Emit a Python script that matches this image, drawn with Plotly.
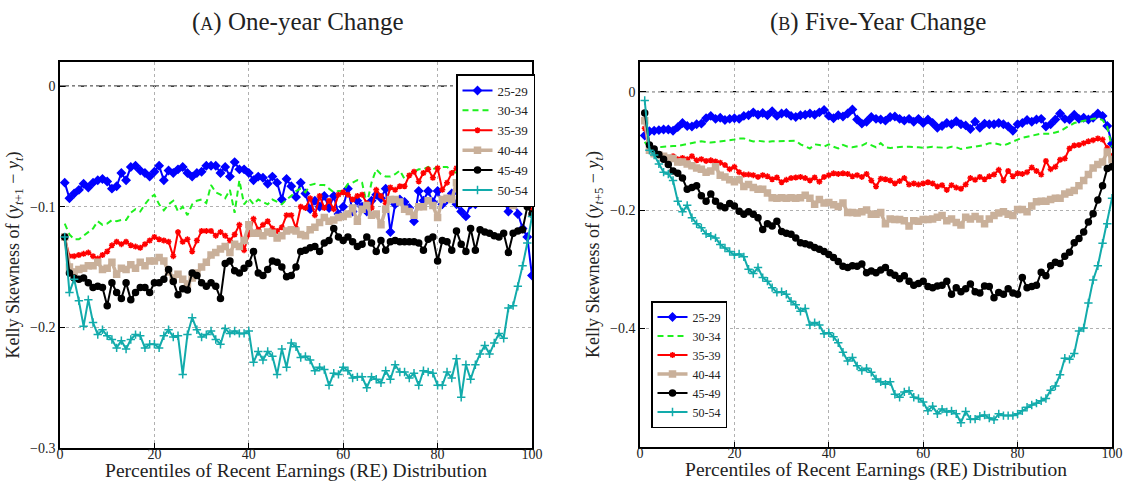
import plotly.graph_objects as go

pct = list(range(1, 101))
age_groups = ["25-29", "30-34", "35-39", "40-44", "45-49", "50-54"]

# Panel A: one-year change
a_2529 = [-0.080,-0.093,-0.089,-0.086,-0.081,-0.084,-0.080,-0.078,-0.077,-0.079,-0.085,-0.083,-0.072,-0.078,-0.067,-0.066,-0.070,-0.072,-0.075,-0.071,
          -0.066,-0.078,-0.070,-0.072,-0.069,-0.067,-0.072,-0.075,-0.072,-0.071,-0.066,-0.066,-0.066,-0.072,-0.067,-0.075,-0.063,-0.069,-0.069,-0.072,
          -0.078,-0.075,-0.076,-0.081,-0.075,-0.080,-0.094,-0.077,-0.083,-0.092,-0.080,-0.089,-0.102,-0.095,-0.100,-0.091,-0.101,-0.091,-0.106,-0.100,
          -0.085,-0.104,-0.095,-0.100,-0.104,-0.095,-0.090,-0.093,-0.085,-0.121,-0.098,-0.094,-0.096,-0.101,-0.112,-0.087,-0.095,-0.087,-0.096,-0.087,
          -0.098,-0.094,-0.089,-0.098,-0.104,-0.108,-0.098,-0.098,-0.093,-0.090,-0.086,-0.093,-0.091,-0.094,-0.104,-0.093,-0.106,-0.118,-0.125,-0.157]
a_3034 = [-0.114,-0.123,-0.127,-0.127,-0.124,-0.121,-0.118,-0.112,-0.115,-0.114,-0.111,-0.112,-0.111,-0.111,-0.105,-0.102,-0.104,-0.098,-0.093,-0.090,
          -0.098,-0.103,-0.098,-0.095,-0.104,-0.100,-0.107,-0.098,-0.095,-0.094,-0.097,-0.082,-0.088,-0.090,-0.093,-0.086,-0.105,-0.078,-0.098,-0.093,
          -0.098,-0.094,-0.096,-0.098,-0.094,-0.096,-0.098,-0.094,-0.091,-0.087,-0.085,-0.088,-0.082,-0.081,-0.082,-0.082,-0.085,-0.088,-0.087,-0.087,
          -0.081,-0.080,-0.078,-0.080,-0.098,-0.080,-0.069,-0.073,-0.075,-0.075,-0.073,-0.070,-0.077,-0.073,-0.071,-0.069,-0.069,-0.067,-0.069,-0.067,
          -0.067,-0.067,-0.070,-0.072,-0.075,-0.078,-0.080,-0.082,-0.080,-0.083,-0.085,-0.082,-0.086,-0.084,-0.087,-0.085,-0.088,-0.086,-0.092,-0.107]
a_3539 = [-0.125,-0.141,-0.141,-0.140,-0.139,-0.138,-0.141,-0.143,-0.140,-0.137,-0.132,-0.129,-0.131,-0.129,-0.132,-0.133,-0.134,-0.131,-0.128,-0.125,
          -0.127,-0.128,-0.129,-0.141,-0.121,-0.129,-0.127,-0.137,-0.128,-0.120,-0.120,-0.120,-0.124,-0.121,-0.124,-0.128,-0.123,-0.115,-0.136,-0.123,
          -0.110,-0.119,-0.115,-0.112,-0.118,-0.120,-0.117,-0.107,-0.107,-0.118,-0.100,-0.101,-0.093,-0.107,-0.091,-0.101,-0.095,-0.102,-0.090,-0.088,
          -0.090,-0.094,-0.091,-0.090,-0.097,-0.101,-0.086,-0.091,-0.097,-0.084,-0.086,-0.083,-0.083,-0.074,-0.071,-0.079,-0.072,-0.069,-0.076,-0.068,
          -0.086,-0.080,-0.072,-0.068,-0.078,-0.072,-0.068,-0.074,-0.075,-0.072,-0.070,-0.068,-0.071,-0.071,-0.076,-0.082,-0.083,-0.085,-0.092,-0.104]
a_4044 = [-0.125,-0.150,-0.154,-0.152,-0.151,-0.149,-0.149,-0.146,-0.152,-0.151,-0.146,-0.156,-0.151,-0.152,-0.148,-0.151,-0.146,-0.149,-0.145,-0.145,
          -0.142,-0.145,-0.154,-0.159,-0.156,-0.160,-0.164,-0.159,-0.155,-0.150,-0.146,-0.140,-0.138,-0.135,-0.133,-0.138,-0.131,-0.133,-0.128,-0.115,
          -0.122,-0.122,-0.124,-0.121,-0.122,-0.126,-0.124,-0.120,-0.119,-0.120,-0.123,-0.124,-0.119,-0.117,-0.113,-0.109,-0.112,-0.111,-0.109,-0.108,
          -0.106,-0.101,-0.112,-0.102,-0.099,-0.107,-0.106,-0.115,-0.102,-0.094,-0.094,-0.096,-0.102,-0.104,-0.107,-0.100,-0.100,-0.095,-0.099,-0.109,
          -0.094,-0.093,-0.094,-0.080,-0.090,-0.093,-0.086,-0.086,-0.089,-0.082,-0.093,-0.091,-0.095,-0.095,-0.093,-0.099,-0.087,-0.094,-0.095,-0.095]
a_4549 = [-0.125,-0.155,-0.159,-0.160,-0.159,-0.163,-0.167,-0.166,-0.167,-0.182,-0.163,-0.171,-0.176,-0.163,-0.177,-0.171,-0.167,-0.167,-0.171,-0.163,
          -0.163,-0.160,-0.152,-0.162,-0.173,-0.168,-0.169,-0.155,-0.157,-0.163,-0.166,-0.163,-0.166,-0.176,-0.147,-0.145,-0.153,-0.155,-0.151,-0.147,
          -0.137,-0.155,-0.157,-0.152,-0.145,-0.146,-0.150,-0.158,-0.157,-0.150,-0.137,-0.136,-0.134,-0.133,-0.137,-0.130,-0.128,-0.118,-0.125,-0.128,
          -0.125,-0.129,-0.133,-0.131,-0.125,-0.130,-0.137,-0.128,-0.136,-0.129,-0.128,-0.129,-0.129,-0.129,-0.129,-0.130,-0.136,-0.127,-0.125,-0.145,
          -0.128,-0.129,-0.136,-0.120,-0.131,-0.137,-0.118,-0.136,-0.119,-0.121,-0.122,-0.124,-0.125,-0.122,-0.138,-0.122,-0.120,-0.119,-0.100,-0.106]
a_5054 = [-0.125,-0.171,-0.160,-0.178,-0.199,-0.177,-0.196,-0.206,-0.202,-0.207,-0.210,-0.217,-0.211,-0.218,-0.210,-0.206,-0.207,-0.217,-0.214,-0.214,
          -0.217,-0.207,-0.202,-0.208,-0.207,-0.239,-0.206,-0.192,-0.202,-0.208,-0.206,-0.203,-0.210,-0.214,-0.201,-0.205,-0.203,-0.205,-0.205,-0.203,
          -0.229,-0.220,-0.227,-0.220,-0.224,-0.239,-0.218,-0.233,-0.213,-0.216,-0.225,-0.224,-0.227,-0.236,-0.233,-0.235,-0.248,-0.238,-0.239,-0.233,
          -0.236,-0.242,-0.241,-0.241,-0.250,-0.241,-0.243,-0.246,-0.236,-0.243,-0.231,-0.237,-0.237,-0.242,-0.238,-0.248,-0.236,-0.237,-0.238,-0.248,
          -0.248,-0.237,-0.242,-0.226,-0.258,-0.231,-0.243,-0.231,-0.222,-0.215,-0.222,-0.213,-0.205,-0.209,-0.184,-0.182,-0.166,-0.149,-0.130,-0.108]

# Panel B: five-year change
b_2529 = [-0.074,-0.067,-0.066,-0.065,-0.064,-0.064,-0.066,-0.060,-0.053,-0.058,-0.059,-0.055,-0.054,-0.045,-0.041,-0.046,-0.044,-0.048,-0.046,-0.045,
          -0.046,-0.041,-0.040,-0.035,-0.039,-0.036,-0.040,-0.033,-0.041,-0.037,-0.036,-0.041,-0.043,-0.040,-0.039,-0.037,-0.039,-0.035,-0.031,-0.041,
          -0.045,-0.040,-0.042,-0.037,-0.030,-0.047,-0.054,-0.051,-0.043,-0.046,-0.047,-0.049,-0.043,-0.042,-0.046,-0.049,-0.046,-0.051,-0.046,-0.053,
          -0.047,-0.053,-0.061,-0.058,-0.053,-0.055,-0.050,-0.055,-0.057,-0.063,-0.051,-0.061,-0.054,-0.055,-0.055,-0.053,-0.055,-0.059,-0.066,-0.055,
          -0.053,-0.048,-0.051,-0.047,-0.046,-0.059,-0.055,-0.047,-0.037,-0.046,-0.047,-0.039,-0.046,-0.044,-0.047,-0.044,-0.037,-0.041,-0.058,-0.088]
b_3034 = [-0.085,-0.096,-0.099,-0.094,-0.093,-0.092,-0.092,-0.092,-0.090,-0.088,-0.086,-0.085,-0.084,-0.085,-0.086,-0.085,-0.084,-0.084,-0.083,-0.081,
          -0.079,-0.079,-0.082,-0.084,-0.083,-0.084,-0.085,-0.084,-0.084,-0.083,-0.083,-0.083,-0.083,-0.089,-0.092,-0.096,-0.089,-0.090,-0.093,-0.089,
          -0.093,-0.096,-0.090,-0.093,-0.094,-0.092,-0.091,-0.087,-0.091,-0.094,-0.087,-0.094,-0.095,-0.094,-0.094,-0.093,-0.093,-0.093,-0.094,-0.095,
          -0.094,-0.093,-0.094,-0.094,-0.095,-0.093,-0.094,-0.097,-0.095,-0.094,-0.093,-0.092,-0.090,-0.087,-0.087,-0.089,-0.091,-0.088,-0.084,-0.081,
          -0.078,-0.076,-0.074,-0.072,-0.071,-0.071,-0.071,-0.069,-0.067,-0.062,-0.057,-0.053,-0.051,-0.049,-0.048,-0.046,-0.045,-0.048,-0.060,-0.094]
b_3539 = [-0.062,-0.100,-0.105,-0.106,-0.109,-0.112,-0.109,-0.114,-0.112,-0.114,-0.109,-0.116,-0.114,-0.117,-0.116,-0.118,-0.120,-0.124,-0.131,-0.127,
          -0.136,-0.140,-0.140,-0.141,-0.144,-0.141,-0.143,-0.148,-0.145,-0.153,-0.149,-0.146,-0.145,-0.144,-0.146,-0.150,-0.145,-0.152,-0.144,-0.141,
          -0.138,-0.139,-0.138,-0.139,-0.143,-0.141,-0.144,-0.139,-0.150,-0.160,-0.147,-0.148,-0.150,-0.155,-0.151,-0.146,-0.157,-0.155,-0.157,-0.155,
          -0.153,-0.155,-0.160,-0.158,-0.166,-0.158,-0.162,-0.164,-0.157,-0.146,-0.149,-0.144,-0.148,-0.143,-0.140,-0.132,-0.150,-0.134,-0.143,-0.138,
          -0.139,-0.136,-0.128,-0.134,-0.140,-0.117,-0.131,-0.127,-0.115,-0.113,-0.096,-0.091,-0.090,-0.087,-0.084,-0.082,-0.079,-0.081,-0.095,-0.109]
b_4044 = [-0.049,-0.099,-0.105,-0.107,-0.109,-0.112,-0.113,-0.119,-0.119,-0.122,-0.125,-0.129,-0.131,-0.136,-0.134,-0.127,-0.141,-0.144,-0.149,-0.152,
          -0.149,-0.160,-0.157,-0.162,-0.165,-0.165,-0.171,-0.179,-0.180,-0.179,-0.180,-0.179,-0.180,-0.179,-0.175,-0.180,-0.190,-0.182,-0.188,-0.187,
          -0.191,-0.194,-0.188,-0.204,-0.204,-0.205,-0.203,-0.200,-0.207,-0.207,-0.204,-0.223,-0.215,-0.216,-0.216,-0.218,-0.227,-0.218,-0.219,-0.216,
          -0.216,-0.215,-0.212,-0.209,-0.218,-0.215,-0.221,-0.225,-0.212,-0.215,-0.211,-0.215,-0.223,-0.215,-0.209,-0.205,-0.203,-0.207,-0.209,-0.199,
          -0.199,-0.203,-0.193,-0.186,-0.185,-0.185,-0.182,-0.180,-0.180,-0.173,-0.170,-0.167,-0.159,-0.150,-0.140,-0.129,-0.123,-0.119,-0.102,-0.115]
b_4549 = [-0.036,-0.090,-0.097,-0.106,-0.114,-0.123,-0.134,-0.138,-0.146,-0.165,-0.162,-0.159,-0.176,-0.185,-0.173,-0.185,-0.193,-0.196,-0.189,-0.193,
          -0.202,-0.207,-0.203,-0.207,-0.213,-0.233,-0.223,-0.227,-0.219,-0.236,-0.239,-0.241,-0.247,-0.255,-0.257,-0.259,-0.263,-0.266,-0.270,-0.275,
          -0.280,-0.287,-0.295,-0.297,-0.294,-0.295,-0.291,-0.306,-0.303,-0.306,-0.301,-0.297,-0.306,-0.310,-0.316,-0.311,-0.320,-0.327,-0.324,-0.320,
          -0.329,-0.331,-0.328,-0.327,-0.320,-0.342,-0.331,-0.338,-0.333,-0.325,-0.338,-0.340,-0.328,-0.329,-0.348,-0.339,-0.342,-0.333,-0.340,-0.342,
          -0.314,-0.331,-0.329,-0.327,-0.305,-0.311,-0.294,-0.288,-0.290,-0.278,-0.271,-0.255,-0.248,-0.237,-0.220,-0.206,-0.183,-0.159,-0.130,-0.127]
b_5054 = [-0.015,-0.099,-0.107,-0.122,-0.136,-0.139,-0.150,-0.185,-0.203,-0.192,-0.213,-0.223,-0.230,-0.240,-0.244,-0.247,-0.258,-0.264,-0.270,-0.276,
          -0.274,-0.279,-0.300,-0.307,-0.297,-0.314,-0.320,-0.331,-0.339,-0.338,-0.342,-0.354,-0.360,-0.371,-0.366,-0.394,-0.390,-0.394,-0.409,-0.407,
          -0.414,-0.424,-0.440,-0.455,-0.449,-0.463,-0.471,-0.467,-0.474,-0.485,-0.490,-0.494,-0.490,-0.511,-0.516,-0.507,-0.505,-0.516,-0.518,-0.524,
          -0.539,-0.531,-0.544,-0.536,-0.541,-0.539,-0.544,-0.559,-0.540,-0.553,-0.553,-0.548,-0.546,-0.551,-0.554,-0.544,-0.547,-0.547,-0.547,-0.544,
          -0.539,-0.533,-0.529,-0.526,-0.522,-0.518,-0.504,-0.497,-0.478,-0.450,-0.452,-0.442,-0.404,-0.399,-0.357,-0.318,-0.294,-0.256,-0.223,-0.180]

x_ticks = [0, 20, 40, 60, 80, 100]
x_ticktext = ["0", "20", "40", "60", "80", "100"]
a_yticks = [0, -0.1, -0.2, -0.3]
a_yticktext = ["0", "\u22120.1", "\u22120.2", "\u22120.3"]
b_yticks = [0, -0.2, -0.4]
b_yticktext = ["0", "\u22120.2", "\u22120.4"]

styles = [
    dict(color="#0000ff", dash="solid", width=2, symbol="diamond", size=6, mode="lines+markers"),
    dict(color="#1ef01e", dash="6px,4px", width=2, symbol="circle", size=1, mode="lines"),
    dict(color="#ff0000", dash="solid", width=2, symbol="asterisk", size=5, mode="lines+markers"),
    dict(color="#c9b09a", dash="solid", width=3.5, symbol="square", size=6, mode="lines+markers"),
    dict(color="#000000", dash="solid", width=2, symbol="circle", size=6, mode="lines+markers"),
    dict(color="#12abab", dash="solid", width=2, symbol="cross-thin", size=6, mode="lines+markers"),
]

SERIF = "Liberation Serif"
TXT = "#222222"
fig = go.Figure()

def add_panel(series, xa, ya, legend, label_xa):
    for name, vals, st in zip(age_groups, series, styles):
        marker = dict(symbol=st["symbol"], size=st["size"], color=st["color"],
                      line=dict(color=st["color"], width=1.5))
        fig.add_trace(go.Scatter(
            x=pct, y=vals, name=name, mode=st["mode"],
            line=dict(color=st["color"], width=st["width"], dash=st["dash"]),
            marker=marker, xaxis=xa, yaxis=ya, legend=legend))
    # invisible copy so the label-only axis is drawn
    fig.add_trace(go.Scatter(x=pct, y=series[0], mode="lines", opacity=0,
                             line=dict(width=0), showlegend=False, hoverinfo="skip",
                             xaxis=label_xa, yaxis=ya))

add_panel([a_2529, a_3034, a_3539, a_4044, a_4549, a_5054], "x", "y", "legend", "x3")
add_panel([b_2529, b_3034, b_3539, b_4044, b_4549, b_5054], "x2", "y2", "legend2", "x4")

W, H = 1124, 483
def px_x(a, b):
    return [a / W, b / W]
def px_y(top, bottom):
    return [1 - bottom / H, 1 - top / H]

axis_common = dict(showline=True, mirror=True, linecolor="black", linewidth=1.5,
                   ticks="inside", ticklen=5, tickcolor="black", automargin=False,
                   showgrid=True, gridcolor="#b0b0b0", griddash="dot", gridwidth=1,
                   zeroline=False, tickfont=dict(family=SERIF, size=14, color=TXT))

xtitle = dict(text="Percentiles of Recent Earnings (RE) Distribution",
              font=dict(family=SERIF, size=19.5, color=TXT), standoff=15)

# secondary axes that only carry the x tick labels, placed just under the frame
label_axis = dict(range=[0, 100], tickvals=x_ticks, ticktext=x_ticktext, anchor="free",
                  showline=False, showgrid=False, zeroline=False, ticks="", automargin=False,
                  tickfont=dict(family=SERIF, size=14, color=TXT), side="bottom")

fig.update_layout(
    width=W, height=H, margin=dict(l=0, r=0, t=0, b=0, autoexpand=False),
    plot_bgcolor="white", paper_bgcolor="white",
    xaxis=dict(domain=px_x(60, 532), range=[0, 100], tickvals=x_ticks, showticklabels=False,
               title=xtitle, anchor="y", **axis_common),
    yaxis=dict(domain=px_y(62, 448), range=[-0.3, 0.02], tickvals=a_yticks, ticktext=a_yticktext,
               title=dict(text="Kelly Skewness of (<i>y</i><sub><i>t</i>+1</sub> \u2212 <i>y</i><sub><i>t</i></sub>)",
                          font=dict(family=SERIF, size=18, color=TXT), standoff=6),
               anchor="x", **axis_common),
    xaxis2=dict(domain=px_x(640, 1112), range=[0, 100], tickvals=x_ticks, showticklabels=False,
                title=xtitle, anchor="y2", **axis_common),
    yaxis2=dict(domain=px_y(62, 447), range=[-0.6, 0.05], tickvals=b_yticks, ticktext=b_yticktext,
                title=dict(text="Kelly Skewness of (<i>y</i><sub><i>t</i>+5</sub> \u2212 <i>y</i><sub><i>t</i></sub>)",
                           font=dict(family=SERIF, size=18, color=TXT), standoff=6),
                anchor="x2", **axis_common),
    xaxis3=dict(domain=px_x(60, 532), overlaying="x", position=1 - 444 / H, **label_axis),
    xaxis4=dict(domain=px_x(640, 1112), overlaying="x2", position=1 - 443 / H, **label_axis),
    legend=dict(x=456 / W, y=1 - 74 / H, xanchor="left", yanchor="top",
                bgcolor="white", bordercolor="black", borderwidth=1.5,
                font=dict(family=SERIF, size=13, color=TXT),
                tracegroupgap=0, itemwidth=30),
    legend2=dict(x=651 / W, y=1 - 428 / H, xanchor="left", yanchor="bottom",
                 bgcolor="white", bordercolor="black", borderwidth=1.5,
                 font=dict(family=SERIF, size=12, color=TXT),
                 tracegroupgap=0, itemwidth=30),
    showlegend=True,
)

for xa, ya in [("x", "y"), ("x2", "y2")]:
    fig.add_shape(type="line", xref=xa, yref=ya, x0=0, x1=100, y0=0, y1=0,
                  line=dict(color="black", width=1.2, dash="dashdot"), layer="below")

fig.add_annotation(text="(<span style='font-size:18px'>A</span>) One-year Change",
                   x=298 / W, y=1 - 22 / H, xref="paper", yref="paper", showarrow=False,
                   xanchor="center", yanchor="middle",
                   font=dict(family=SERIF, size=25, color=TXT))
fig.add_annotation(text="(<span style='font-size:18px'>B</span>) Five-Year Change",
                   x=878 / W, y=1 - 22 / H, xref="paper", yref="paper", showarrow=False,
                   xanchor="center", yanchor="middle",
                   font=dict(family=SERIF, size=25, color=TXT))

fig.write_html("out.html", config={"displayModeBar": False},
               post_script="document.body.style.margin='0';document.body.style.overflow='hidden';")
